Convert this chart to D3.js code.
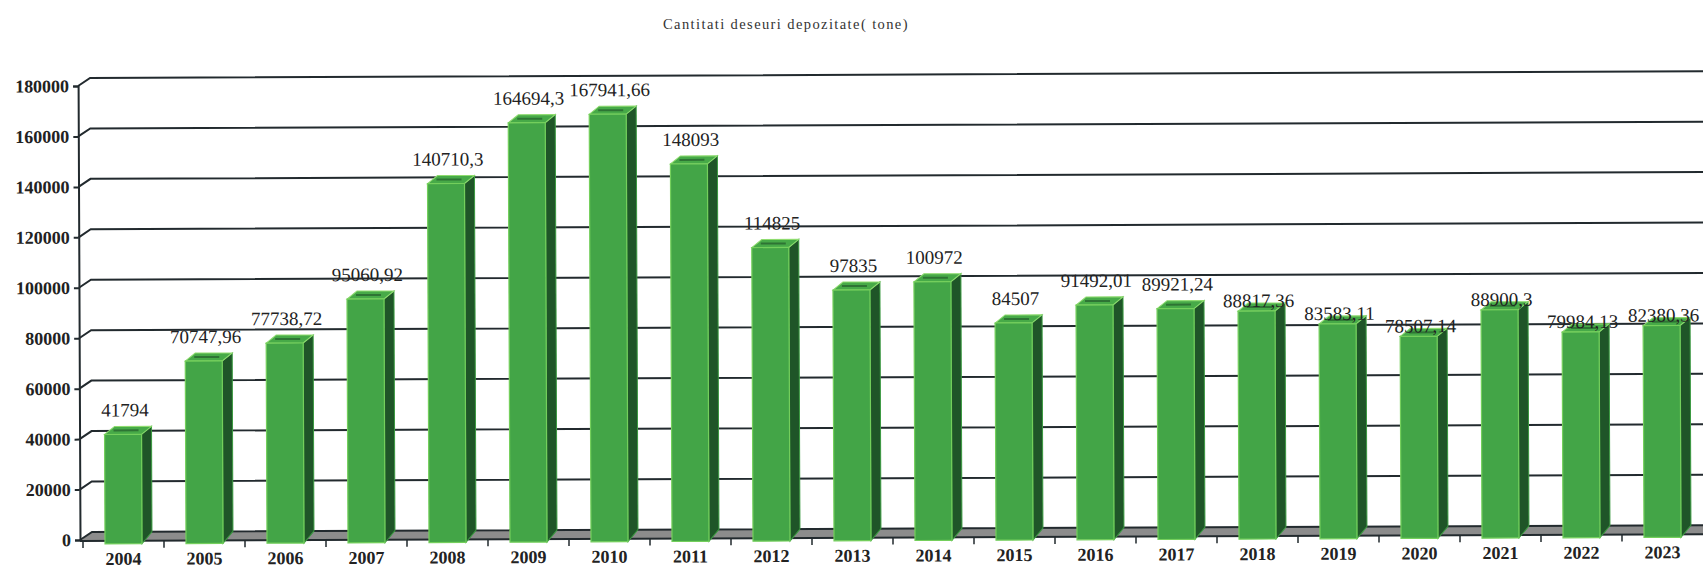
<!DOCTYPE html>
<html>
<head>
<meta charset="utf-8">
<script src="https://cdn.jsdelivr.net/npm/d3@7"></script>
<style>
  body { margin: 0; background: #fff; }
  svg { display: block; }
</style>
</head>
<body>
<script>
const years = ['2004','2005','2006','2007','2008','2009','2010','2011','2012','2013',
               '2014','2015','2016','2017','2018','2019','2020','2021','2022','2023'];
const values = [41794, 70747.96, 77738.72, 95060.92, 140710.3, 164694.3, 167941.66, 148093, 114825, 97835,
                100972, 84507, 91492.01, 89921.24, 88817.36, 83583.11, 78507.14, 88900.3, 79984.13, 82380.36];
const labels = ['41794','70747,96','77738,72','95060,92','140710,3','164694,3','167941,66','148093','114825','97835',
                '100972','84507','91492,01','89921,24','88817,36','83583,11','78507,14','88900,3','79984,13','82380,36'];
const yTicks = [0, 20000, 40000, 60000, 80000, 100000, 120000, 140000, 160000, 180000];

const w = 1703, h = 569;
const axisX = 80;
const gdx = 12, gdy = -8; // back wall offset
const bdx = 10, bdy = -8; // bar depth

const svg = d3.select('body').append('svg')
  .attr('width', w).attr('height', h);

svg.append('text')
  .attr('x', 786).attr('y', 29)
  .attr('text-anchor', 'middle')
  .attr('font-family', 'Liberation Serif')
  .attr('font-size', 14.5)
  .attr('letter-spacing', 1.4)
  .attr('fill', '#333')
  .text('Cantitati deseuri depozitate( tone)');

// the scan is slightly tilted
const g = svg.append('g').attr('transform', 'rotate(-0.24, 80, 540)');

const xScale = d3.scaleBand().domain(years).range([83, 1703]);
const yScale = d3.scaleLinear().domain([0, 180000]).range([540, 86]);

// floor
g.append('path')
  .attr('d', `M${axisX},541 L${axisX + gdx},${540 + gdy} L${w + 30},${540 + gdy} L${w + 30},541 Z`)
  .attr('fill', '#8c8c8c');

// gridlines on the back wall
g.selectAll('.grid')
  .data(yTicks)
  .enter()
  .append('path')
  .attr('class', 'grid')
  .attr('d', d => `M${axisX},${yScale(d)} L${axisX + gdx},${yScale(d) + gdy} L${w + 30},${yScale(d) + gdy}`)
  .attr('fill', 'none')
  .attr('stroke', '#222a2e')
  .attr('stroke-width', 2);

// y axis
const yAxis = d3.axisLeft(yScale).tickValues(yTicks).tickSize(5).tickFormat(d3.format('d'));
g.append('g')
  .attr('id', 'y-axis')
  .attr('transform', 'translate(' + axisX + ',0)')
  .call(yAxis)
  .call(a => a.select('.domain').attr('stroke', '#222a2e').attr('stroke-width', 2))
  .call(a => a.selectAll('.tick line').attr('stroke', '#222a2e').attr('stroke-width', 2))
  .call(a => a.selectAll('.tick text')
     .attr('font-family', 'Liberation Serif')
     .attr('font-weight', 'bold')
     .attr('font-size', 18)
     .attr('fill', '#222')
     .attr('x', -9));

// x axis
const xAxis = d3.axisBottom(xScale).tickSize(0);
const xg = g.append('g')
  .attr('id', 'x-axis')
  .attr('transform', 'translate(0,541)')
  .call(xAxis)
  .call(a => a.select('.domain').remove())
  .call(a => a.selectAll('.tick text')
     .attr('font-family', 'Liberation Serif')
     .attr('font-weight', 'bold')
     .attr('font-size', 18)
     .attr('fill', '#222')
     .attr('dy', null)
     .attr('y', 24));
xg.selectAll('.bnd')
  .data(years)
  .enter()
  .append('line')
  .attr('x1', d => xScale(d)).attr('x2', d => xScale(d))
  .attr('y1', 0).attr('y2', 7)
  .attr('stroke', '#222a2e').attr('stroke-width', 1.5);
g.append('line')
  .attr('x1', axisX).attr('x2', w + 30)
  .attr('y1', 541).attr('y2', 541)
  .attr('stroke', '#222a2e').attr('stroke-width', 2);

// bars
const bw = 37;
const bars = g.selectAll('.bar')
  .data(values)
  .enter()
  .append('g')
  .attr('class', 'bar')
  .attr('transform', (d, i) => 'translate(' + (xScale(years[i]) + xScale.bandwidth() / 2 - bw / 2) + ',0)');

// side face
bars.append('path')
  .attr('d', d => `M${bw},${yScale(d)} L${bw + bdx},${yScale(d) + bdy} L${bw + bdx},${540 + bdy} L${bw},544 Z`)
  .attr('fill', '#1f5528')
  .attr('stroke', '#3a9a40').attr('stroke-width', 1);
// top face
bars.append('path')
  .attr('d', d => `M0,${yScale(d)} L${bdx},${yScale(d) + bdy} L${bw + bdx},${yScale(d) + bdy} L${bw},${yScale(d)} Z`)
  .attr('fill', '#47aa48')
  .attr('stroke', '#8fdc6f').attr('stroke-width', 1);
bars.append('line')
  .attr('x1', 9).attr('x2', bw - 3)
  .attr('y1', d => yScale(d) - 4).attr('y2', d => yScale(d) - 4)
  .attr('stroke', '#2e7434').attr('stroke-width', 2);
// front face
bars.append('rect')
  .attr('x', 0)
  .attr('y', d => yScale(d))
  .attr('width', bw)
  .attr('height', d => 544 - yScale(d))
  .attr('fill', '#43a547')
  .attr('stroke', '#74cf5c').attr('stroke-width', 1.2);

// value labels (the last ones sit almost on the bars in the original)
g.selectAll('.val')
  .data(values)
  .enter()
  .append('text')
  .attr('class', 'val')
  .attr('x', (d, i) => xScale(years[i]) + xScale.bandwidth() / 2 + 2)
  .attr('y', (d, i) => yScale(d) - (i >= 14 ? 4 : 18))
  .attr('text-anchor', 'middle')
  .attr('font-family', 'Liberation Serif')
  .attr('font-size', 19)
  .attr('fill', '#222')
  .text((d, i) => labels[i]);
</script>
</body>
</html>
